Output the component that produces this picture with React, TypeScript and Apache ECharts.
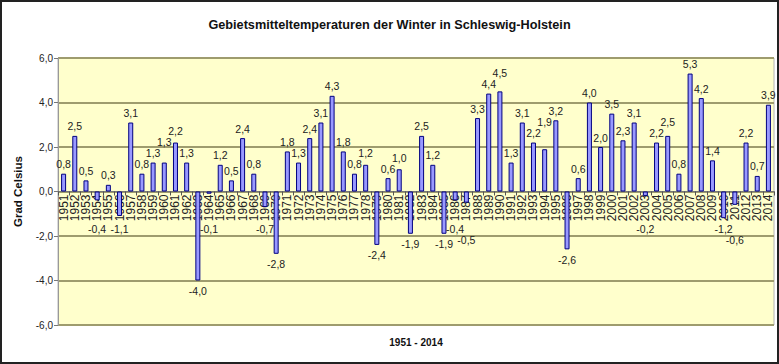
import React, { useEffect, useRef } from "react";
import * as echarts from "echarts";

const years: string[] = [
  "1951","1952","1953","1954","1955","1956","1957","1958","1959","1960",
  "1961","1962","1963","1964","1965","1966","1967","1968","1969","1970",
  "1971","1972","1973","1974","1975","1976","1977","1978","1979","1980",
  "1981","1982","1983","1984","1985","1986","1987","1988","1989","1990",
  "1991","1992","1993","1994","1995","1996","1997","1998","1999","2000",
  "2001","2002","2003","2004","2005","2006","2007","2008","2009","2010",
  "2011","2012","2013","2014",
];

const temperatures: number[] = [
  0.8, 2.5, 0.5, -0.4, 0.3, -1.1, 3.1, 0.8, 1.3, 1.3,
  2.2, 1.3, -4.0, -0.1, 1.2, 0.5, 2.4, 0.8, -0.7, -2.8,
  1.8, 1.3, 2.4, 3.1, 4.3, 1.8, 0.8, 1.2, -2.4, 0.6,
  1.0, -1.9, 2.5, 1.2, -1.9, -0.4, -0.5, 3.3, 4.4, 4.5,
  1.3, 3.1, 2.2, 1.9, 3.2, -2.6, 0.6, 4.0, 2.0, 3.5,
  2.3, 3.1, -0.2, 2.2, 2.5, 0.8, 5.3, 4.2, 1.4, -1.2,
  -0.6, 2.2, 0.7, 3.9,
];

const title = "Gebietsmitteltemperaturen der Winter in Schleswig-Holstein";
const yAxisTitle = "Grad Celsius";
const xAxisTitle = "1951 - 2014";
const yMin = -6;
const yMax = 6;
const yStep = 2;

const FONT = "Arial, 'Liberation Sans', sans-serif";
const fmt = (v: number) => v.toFixed(1).replace(".", ",");

export default function App() {
  const ref = useRef<HTMLDivElement>(null);

  useEffect(() => {
    if (!ref.current) return;
    const chart = echarts.init(ref.current, undefined, { renderer: "svg" });

    const W = 779;
    const H = 364;
    const gridLeft = 58;
    const gridRight = 5;
    const gridTop = 58;
    const gridBottom = 39;
    const plotH = H - gridTop - gridBottom;
    const pxPerUnit = plotH / (yMax - yMin);
    const zeroOffset = -((0 - yMin) * pxPerUnit);

    // label distances: negatives keep clear of the category labels,
    // adjacent labels at nearly the same height are staggered
    const dists: number[] = [];
    const outer: number[] = [];
    temperatures.forEach((v, i) => {
      const barPx = pxPerUnit * Math.abs(v);
      let d = v < 0 ? Math.max(5, 32 - barPx) : 4;
      let edge = barPx + d;
      if (i > 0) {
        const pv = temperatures[i - 1];
        if ((pv < 0) === (v < 0) && Math.abs(outer[i - 1] - edge) < 10) {
          const newEdge = outer[i - 1] + 11;
          d += newEdge - edge;
          edge = newEdge;
        }
      }
      dists.push(d);
      outer.push(edge);
    });

    const data = temperatures.map((v, i) => ({
      value: v,
      label: { position: v < 0 ? "bottom" : "top", distance: dists[i] },
    }));

    chart.setOption({
      animation: false,
      backgroundColor: "#ffffff",
      textStyle: { fontFamily: FONT },
      title: {
        text: title,
        left: "center",
        top: 13,
        textStyle: { fontFamily: FONT, fontSize: 12.7, fontWeight: "bold", color: "#111" },
      },
      graphic: [
        {
          type: "rect",
          shape: { x: 1, y: 1, width: W - 2, height: H - 2 },
          style: { fill: "none", stroke: "#222", lineWidth: 2 },
          z: 100,
          silent: true,
        },
        {
          type: "text",
          x: gridLeft + (W - gridLeft - gridRight) / 2,
          y: 342,
          style: {
            text: xAxisTitle,
            font: "bold 10px " + FONT,
            fill: "#111",
            align: "center",
            verticalAlign: "middle",
          },
        },
      ],
      grid: {
        left: gridLeft,
        right: gridRight,
        top: gridTop,
        bottom: gridBottom,
        show: true,
        backgroundColor: "#ffffcc",
        borderColor: "#b4b4b4",
        borderWidth: 1,
        containLabel: false,
        outerBoundsMode: "none",
      },
      xAxis: {
        type: "category",
        data: years,
        position: "bottom",
        offset: zeroOffset,
        axisLine: { onZero: false, lineStyle: { color: "#777", width: 1 } },
        axisTick: { show: true, length: 4, lineStyle: { color: "#555" } },
        axisLabel: {
          interval: 0,
          rotate: 90,
          margin: 3,
          fontSize: 12,
          color: "#222",
          fontFamily: FONT,
        },
        splitLine: { show: false },
      },
      yAxis: {
        type: "value",
        min: yMin,
        max: yMax,
        interval: yStep,
        name: yAxisTitle,
        nameLocation: "middle",
        nameGap: 34,
        nameTextStyle: { fontFamily: FONT, fontSize: 11.5, fontWeight: "bold", color: "#111" },
        axisLine: { show: true, lineStyle: { color: "#999" } },
        axisTick: { show: true, length: 4, lineStyle: { color: "#777" } },
        axisLabel: {
          formatter: (v: number) => fmt(v),
          fontSize: 10,
          color: "#222",
          margin: 5,
          fontFamily: FONT,
        },
        splitLine: { show: true, lineStyle: { color: "#9e9c6e", width: 2 } },
      },
      series: [
        {
          type: "bar",
          data,
          barWidth: 5,
          itemStyle: { color: "#9999ff", borderColor: "#000080", borderWidth: 1 },
          label: {
            show: true,
            formatter: (p: any) => fmt(p.value),
            fontSize: 10.5,
            color: "#222",
            fontFamily: FONT,
          },
        },
      ],
    });

    return () => chart.dispose();
  }, []);

  return (
    <div
      ref={ref}
      style={{ position: "absolute", left: 0, top: 0, width: 779, height: 364 }}
    />
  );
}
